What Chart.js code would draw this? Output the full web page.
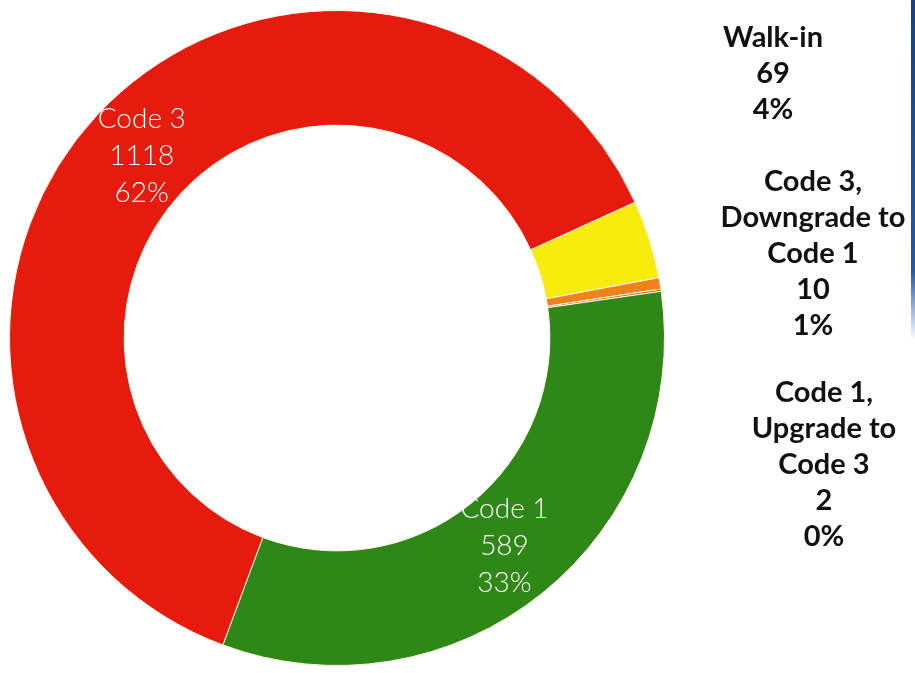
<!DOCTYPE html>
<html>
<head>
<meta charset="utf-8">
<script src="https://cdn.jsdelivr.net/npm/chart.js@4.4.0/dist/chart.umd.min.js"></script>
<style>
    html, body { margin: 0; padding: 0; background: #fff; }
    #wrap { position: relative; width: 915px; height: 673px; overflow: hidden; }
    #edge { position: absolute; right: 0; top: 0; width: 4px; height: 340px;
            background: linear-gradient(#1b3d8c, #2a56b0 80%, rgba(42,86,176,0)); }
</style>
</head>
<body>
<div id="wrap">
    <canvas id="chartCanvas" width="915" height="673"></canvas>
    <div id="edge"></div>
</div>
<script>
// data, clockwise from the red/yellow boundary
const categories = ['Walk-in', ['Code 3,', 'Downgrade to', 'Code 1'], ['Code 1,', 'Upgrade to', 'Code 3'], 'Code 1', 'Code 3'];
const counts = [69, 10, 2, 589, 1118];
const percents = [4, 1, 0, 33, 62];
const sliceColors = ['#f8ec0e', '#f0821a', '#d9661a', '#2f8717', '#e61b0e'];

// outside label anchors (x, y of first line) for the three small slices
const outsideSpots = [[773, 38], [813, 182], [824, 393]];

const labelPlugin = {
    id: 'sliceLabels',
    afterDraw(chart) {
        const ctx = chart.ctx;
        const arcs = chart.getDatasetMeta(0).data;
        ctx.save();
        ctx.textAlign = 'center';
        ctx.textBaseline = 'middle';
        arcs.forEach((arc, i) => {
            let lines = [].concat(categories[i]);
            lines = lines.concat([String(counts[i]), percents[i] + '%']);
            if (i < 3) {
                // small slices get their text on the right
                ctx.fillStyle = '#111';
                ctx.font = 'bold 29px Lato, "Open Sans", sans-serif';
                let [x, y] = outsideSpots[i];
                lines.forEach((t, k) => ctx.fillText(t, x, y + k * 36));
            } else {
                const p = arc.getProps(['x', 'y', 'startAngle', 'endAngle', 'innerRadius', 'outerRadius'], true);
                const mid = (p.startAngle + p.endAngle) / 2;
                const r = p.innerRadius + (p.outerRadius - p.innerRadius) * 0.47;
                const cx = p.x + Math.cos(mid) * r;
                const cy = p.y + Math.sin(mid) * r;
                ctx.fillStyle = '#fff';
                ctx.font = '300 28px Lato, "Open Sans", sans-serif';
                lines.forEach((t, k) => ctx.fillText(t, cx, cy + (k - 1) * 37));
            }
        });
        ctx.restore();
    }
};

const ctx = document.getElementById('chartCanvas').getContext('2d');

let chart = new Chart(ctx, {
    type: 'doughnut',
    data: {
        labels: categories,
        datasets: [{
            data: counts,
            backgroundColor: sliceColors,
            borderColor: '#fcf5e4',
            borderWidth: 1,
            hoverOffset: 0
        }]
    },
    options: {
        responsive: false,
        animation: false,
        cutout: '65%',
        rotation: 65.5,
        layout: {
            padding: { left: 9, right: 250, top: 10, bottom: 7 }
        },
        plugins: {
            legend: { display: false },
            tooltip: { enabled: false }
        }
    },
    plugins: [labelPlugin]
});
</script>
</body>
</html>
